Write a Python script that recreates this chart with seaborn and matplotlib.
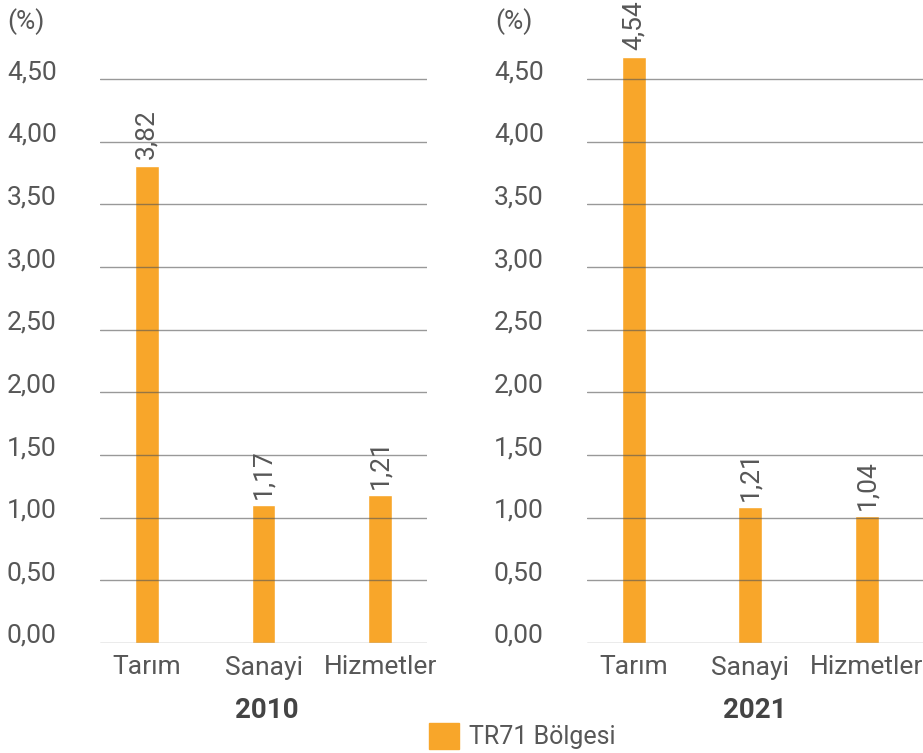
import pandas as pd
import matplotlib
matplotlib.use("Agg")
import matplotlib.pyplot as plt
import seaborn as sns
from matplotlib.patches import Patch

# data
sektorler = ["Tarım", "Sanayi", "Hizmetler"]
yillar = ["2010", "2021"]
# bar heights as drawn in the picture
yukseklik_2010 = [3.81, 1.10, 1.18]
yukseklik_2021 = [4.68, 1.085, 1.01]
# printed value labels
etiket_2010 = ["3,82", "1,17", "1,21"]
etiket_2021 = ["4,54", "1,21", "1,04"]
yticks = [0, 0.5, 1.0, 1.5, 2.0, 2.5, 3.0, 3.5, 4.0, 4.5]
ytick_labels = ["0,00", "0,50", "1,00", "1,50", "2,00", "2,50", "3,00", "3,50", "4,00", "4,50"]
legend_label = "TR71 Bölgesi"

sns.set_style("white")
plt.rcParams['font.family'] = ['Roboto', 'DejaVu Sans']

bar_color = "#F8A62A"
text_color = "#575757"

fig = plt.figure(figsize=(9.23, 7.53), dpi=100)
ax1 = fig.add_axes([100/923, 1-643/753, 327/923, 626.5/753])
ax2 = fig.add_axes([587/923, 1-643/753, 336/923, 626.5/753])

panels = [(ax1, yukseklik_2010, etiket_2010, (-0.4, 2.4), 267, yillar[0]),
          (ax2, yukseklik_2021, etiket_2021, (-0.4, 2.48), 755, yillar[1])]

for ax, vals, labs, xl, yx, yil in panels:
    df = pd.DataFrame({"sektor": sektorler, "deger": vals})
    sns.barplot(data=df, x="sektor", y="deger", color=bar_color, saturation=1,
                width=0.205, ax=ax)
    ax.set_xlim(*xl)
    ax.set_ylim(0, 5.0)
    ax.set_yticks(yticks)
    ax.set_yticklabels(ytick_labels, ha="left", va="baseline")
    ax.tick_params(axis="y", length=0, pad=67, labelsize=19, labelcolor=text_color)
    ax.tick_params(axis="x", length=0, pad=9, labelsize=19, labelcolor=text_color)
    ax.set_xlabel("")
    ax.set_ylabel("")
    for s in ax.spines.values():
        s.set_visible(False)
    ax.set_axisbelow(False)
    ax.yaxis.grid(True, color="#555555", alpha=0.6, linewidth=1)
    for p, lab in zip(ax.patches, labs):
        ax.annotate(lab, (p.get_x() + p.get_width()/2, p.get_height()),
                    xytext=(0, 4.5), textcoords="offset points",
                    ha="center", va="bottom", rotation=90,
                    fontsize=19, color=text_color)
    fig.text(yx/923, 1-711/753, yil,
             ha="center", va="center", fontsize=20, fontweight="bold",
             color="#444444")

fig.text(7/923, 1-22/753, "(%)", ha="left", va="center", fontsize=19, color=text_color)
fig.text(495/923, 1-22/753, "(%)", ha="left", va="center", fontsize=19, color=text_color)

fig.legend(handles=[Patch(color=bar_color)], labels=[legend_label],
           loc="center left", bbox_to_anchor=(419/923, 1-736/753),
           frameon=False, fontsize=18, handlelength=1.2, handleheight=1.2,
           handletextpad=0.4, labelcolor=text_color, borderaxespad=0)

fig.savefig("out.png", dpi=100)
